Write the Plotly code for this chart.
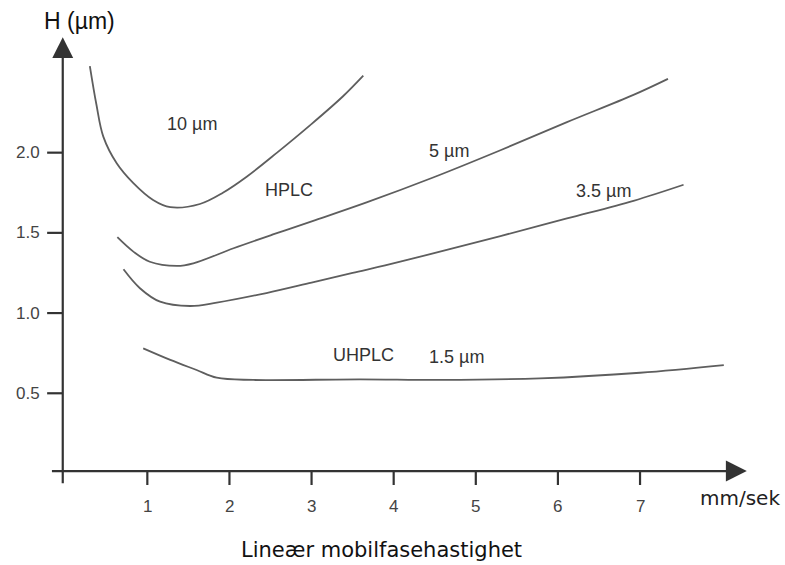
import plotly.graph_objects as go

# ---- data ----
x_10um = [0.30, 0.38, 0.464, 0.627, 0.83, 1.07, 1.28, 1.64, 1.92, 2.21, 2.58, 2.98, 3.38, 3.63]
y_10um = [2.54, 2.30, 2.10, 1.934, 1.81, 1.705, 1.66, 1.68, 1.75, 1.85, 2.00, 2.17, 2.35, 2.48]

x_5um = [0.635, 0.83, 1.03, 1.36, 1.56, 2.05, 2.53, 3.02, 3.67, 4.48, 5.30, 6.11, 6.92, 7.34]
y_5um = [1.473, 1.383, 1.32, 1.294, 1.31, 1.404, 1.49, 1.575, 1.69, 1.845, 2.015, 2.19, 2.36, 2.46]

x_35um = [0.71, 0.91, 1.155, 1.52, 1.845, 2.45, 3.00, 3.50, 4.08, 5.30, 6.11, 6.92, 7.53]
y_35um = [1.273, 1.155, 1.071, 1.044, 1.065, 1.125, 1.19, 1.25, 1.32, 1.48, 1.59, 1.70, 1.80]

x_15um = [0.95, 1.28, 1.60, 1.845, 2.29, 3.59, 4.57, 5.78, 7.00, 8.02]
y_15um = [0.78, 0.708, 0.645, 0.597, 0.583, 0.587, 0.583, 0.593, 0.628, 0.676]

x_ticks = [1, 2, 3, 4, 5, 6, 7]
x_tick_labels = ["1", "2", "3", "4", "5", "6", "7"]
y_ticks = [0.5, 1.0, 1.5, 2.0]
y_tick_labels = ["0.5", "1.0", "1.5", "2.0"]

curve_labels = [
    ("10 µm", 1.545, 2.18),
    ("HPLC", 2.72, 1.767),
    ("5 µm", 4.675, 2.01),
    ("3.5 µm", 6.56, 1.76),
    ("UHPLC", 3.63, 0.739),
    ("1.5 µm", 4.76, 0.726),
]

LINE_COL = "#5e5e5e"
AXIS_COL = "#333333"
TXT_COL = "#333333"
FONT = "Liberation Sans, Arial, sans-serif"

fig = go.Figure()
for xs, ys in [(x_10um, y_10um), (x_5um, y_5um), (x_35um, y_35um), (x_15um, y_15um)]:
    fig.add_trace(go.Scatter(x=xs, y=ys, mode="lines", line=dict(color=LINE_COL, width=1.8, shape="spline", smoothing=1.0),
                             hoverinfo="skip", showlegend=False))

shapes = []
annotations = []

# axes lines with arrows
X_AX_Y = 0.015
Y_AX_X = -0.03
annotations.append(dict(x=8.30, y=X_AX_Y, ax=-0.18, ay=X_AX_Y, xref="x", yref="y", axref="x", ayref="y",
                        text="", showarrow=True, arrowhead=2, arrowsize=1.9, arrowwidth=2.2, arrowcolor=AXIS_COL, standoff=0))
annotations.append(dict(x=Y_AX_X, y=2.72, ax=Y_AX_X, ay=-0.07, xref="x", yref="y", axref="x", ayref="y",
                        text="", showarrow=True, arrowhead=2, arrowsize=1.9, arrowwidth=2.2, arrowcolor=AXIS_COL, standoff=0))

# ticks
for v, lab in zip(x_ticks, x_tick_labels):
    shapes.append(dict(type="line", xref="x", yref="y", x0=v, x1=v, y0=X_AX_Y, y1=-0.072,
                       line=dict(color=AXIS_COL, width=2.2)))
    annotations.append(dict(x=v, y=-0.207, xref="x", yref="y", text=lab, showarrow=False,
                            font=dict(family=FONT, size=17, color="#444444")))
for v, lab in zip(y_ticks, y_tick_labels):
    shapes.append(dict(type="line", xref="x", yref="y", x0=-0.22, x1=Y_AX_X, y0=v, y1=v,
                       line=dict(color=AXIS_COL, width=2.2)))
    annotations.append(dict(x=-0.28, y=v, xref="x", yref="y", text=lab, showarrow=False, xanchor="right",
                            font=dict(family=FONT, size=17, color="#444444")))

for txt, xx, yy in curve_labels:
    annotations.append(dict(x=xx, y=yy, xref="x", yref="y", text=txt, showarrow=False,
                            font=dict(family=FONT, size=18, color=TXT_COL)))

annotations.append(dict(x=7.71, y=-0.153, xref="x", yref="y", text="mm/sek", showarrow=False, xanchor="left",
                        yanchor="middle", font=dict(family="DejaVu Sans, sans-serif", size=20, color="#222222")))
annotations.append(dict(x=0.478, y=-0.06, xref="paper", yref="paper", text="Lineær mobilfasehastighet",
                        showarrow=False, xanchor="center", yanchor="middle",
                        font=dict(family="DejaVu Sans, sans-serif", size=21, color="#111111")))
annotations.append(dict(x=0.003, y=0.998, xref="paper", yref="paper", text="H (µm)", showarrow=False,
                        xanchor="left", yanchor="middle", font=dict(family=FONT, size=23, color="#111111")))

fig.update_layout(
    width=785, height=565, autosize=False,
    margin=dict(l=40, r=30, t=20, b=45),
    paper_bgcolor="white", plot_bgcolor="white",
    xaxis=dict(range=[-0.307, 8.40], visible=False, fixedrange=True),
    yaxis=dict(range=[-0.290, 2.827], visible=False, fixedrange=True),
    shapes=shapes, annotations=annotations,
)

fig.write_html("out.html")
